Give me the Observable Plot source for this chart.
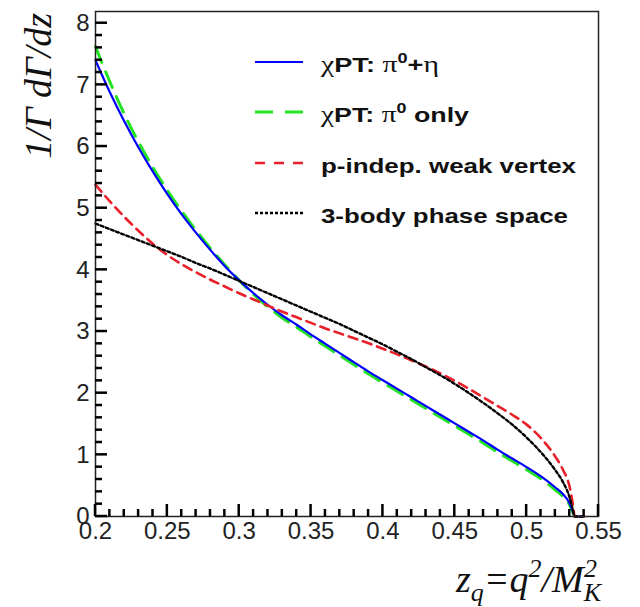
<!DOCTYPE html>
<html><head><meta charset="utf-8">
<script src="https://cdn.jsdelivr.net/npm/d3@7"></script>
<script src="https://cdn.jsdelivr.net/npm/@observablehq/plot@0.6"></script>
<style>body{margin:0;background:#fff} svg{display:block}</style>
</head><body><div id="chart"></div>
<script>
// ---- data ----
const z = [0.20,0.21,0.22,0.23,0.24,0.25,0.26,0.27,0.28,0.29,0.30,0.31,0.32,0.33,0.34,0.35,0.36,0.37,0.38,0.39,0.40,0.41,0.42,0.43,0.44,0.45,0.46,0.47,0.48,0.49,0.50,0.51,0.52,0.525,0.53,0.532,0.5335,0.54];
const chptPiEta  = [7.40,6.88,6.41,5.98,5.59,5.23,4.90,4.60,4.32,4.06,3.83,3.62,3.43,3.26,3.11,2.95,2.80,2.65,2.50,2.35,2.21,2.07,1.93,1.79,1.65,1.51,1.37,1.23,1.08,0.94,0.80,0.65,0.47,0.37,0.21,0.09,0,0];
const chptPiOnly = [7.62,7.05,6.53,6.07,5.66,5.29,4.95,4.64,4.35,4.08,3.83,3.60,3.40,3.22,3.07,2.91,2.76,2.61,2.46,2.31,2.17,2.03,1.89,1.75,1.61,1.47,1.33,1.19,1.04,0.90,0.76,0.61,0.43,0.33,0.18,0.07,0,0];
const weakVertex = [5.38,5.11,4.86,4.63,4.42,4.24,4.09,3.96,3.84,3.73,3.62,3.52,3.42,3.32,3.23,3.14,3.05,2.97,2.89,2.81,2.72,2.63,2.53,2.43,2.32,2.20,2.07,1.93,1.79,1.65,1.49,1.27,0.97,0.77,0.47,0.22,0,0];
const phaseSpace = [4.75,4.66,4.57,4.48,4.39,4.30,4.21,4.11,4.02,3.92,3.82,3.72,3.62,3.52,3.42,3.32,3.22,3.12,3.01,2.90,2.79,2.67,2.55,2.42,2.29,2.15,2.00,1.84,1.67,1.49,1.28,1.04,0.75,0.57,0.30,0.12,0,0];
const seriesNames = ["χPT: π0+η","χPT: π0 only","p-indep. weak vertex","3-body phase space"];
const xMajor = [0.2,0.25,0.3,0.35,0.4,0.45,0.5,0.55];
const xMajorLabels = ["0.2","0.25","0.3","0.35","0.4","0.45","0.5","0.55"];
const xMinor = d3.range(20,56).map(i => i/100);
const yMajor = [0,1,2,3,4,5,6,7,8];
const yMinor = d3.range(0,41).map(i => i/5);

// ---- layout ----
const W = 640, H = 607, mL = 95, mR = 42, mT = 11, mB = 91;
const toRows = vals => z.map((x, i) => ({z: x, v: vals[i]}));
const isXMajor = v => xMajor.some(m => Math.abs(m - v) < 1e-9);
const isYMajor = v => Math.abs(v - Math.round(v)) < 1e-9;

const styles = [
  {stroke: "#0000ff", strokeWidth: 2.2},
  {stroke: "#22e322", strokeWidth: 3, strokeDasharray: "17,10"},
  {stroke: "#e8202a", strokeWidth: 2.6, strokeDasharray: "9,6"},
  {stroke: "#000000", strokeWidth: 2.4, strokeDasharray: "3,2.5"}
];

const chart = Plot.plot({
  width: W, height: H,
  marginLeft: mL, marginRight: mR, marginTop: mT, marginBottom: mB,
  style: {fontFamily: "Liberation Sans, Arial, sans-serif", background: "#fff"},
  x: {domain: [0.2, 0.55]},
  y: {domain: [0, 8.19]},
  marks: [
    Plot.axisX(xMajor, {tickSize: 0, tickPadding: 5, fontSize: 24, fill: "#222", tickFormat: (d, i) => xMajorLabels[i], label: null}),
    Plot.axisY(yMajor, {tickSize: 0, tickPadding: 6, fontSize: 24, fill: "#222", tickFormat: d => String(d), label: null}),
    Plot.line(toRows(chptPiOnly), {x: "z", y: "v", curve: "monotone-x", ...styles[1]}),
    Plot.line(toRows(chptPiEta), {x: "z", y: "v", curve: "monotone-x", ...styles[0]}),
    Plot.line(toRows(weakVertex), {x: "z", y: "v", curve: "monotone-x", ...styles[2]}),
    Plot.line(toRows(phaseSpace), {x: "z", y: "v", curve: "monotone-x", ...styles[3]}),
    Plot.frame({stroke: "#222", strokeWidth: 1.5})
  ]
});
document.getElementById("chart").appendChild(chart);

const svg = d3.select(chart);
const xs = chart.scale("x"), ys = chart.scale("y");
const sx = d3.scaleLinear().domain(xs.domain).range(xs.range);
const sy = d3.scaleLinear().domain(ys.domain).range(ys.range);
const x0 = sx(0.2), y0 = sy(0);

// inward ROOT-style ticks, positioned through the chart's own scales
const tg = svg.append("g");
xMinor.forEach(v => {
  tg.append("path").attr("d", `M${sx(v)},${y0}V${y0 - (isXMajor(v) ? 12 : 7)}`)
    .attr("stroke", "black").attr("stroke-width", 2.5);
});
yMinor.forEach(v => {
  tg.append("path").attr("d", `M${x0},${sy(v)}H${x0 + (isYMajor(v) ? 12 : 7)}`)
    .attr("stroke", "black").attr("stroke-width", 2.5);
});

// y-axis title
svg.append("text")
  .attr("transform", "translate(51,13) rotate(-90)")
  .attr("text-anchor", "end")
  .attr("font-family", "Liberation Serif, Times New Roman, serif")
  .attr("font-style", "italic")
  .attr("font-size", 38)
  .attr("fill", "#111")
  .text("1/Γ dΓ/dz");

// x-axis title
const xt = svg.append("text")
  .attr("x", 456).attr("y", 592)
  .attr("text-anchor", "start")
  .attr("font-family", "Liberation Serif, Times New Roman, serif")
  .attr("font-style", "italic")
  .attr("font-size", 38)
  .attr("fill", "#111");
xt.append("tspan").text("z");
xt.append("tspan").attr("dy", 9).attr("font-size", 26).text("q");
xt.append("tspan").attr("dy", -9).text("=q");
xt.append("tspan").attr("dy", -15).attr("font-size", 26).text("2");
xt.append("tspan").attr("dy", 15).text("/M");
xt.append("tspan").attr("dy", 9).attr("font-size", 26).text("K");
xt.append("tspan").attr("dx", -17).attr("dy", -24).attr("font-size", 26).text("2");

// legend
const legY = [62, 112, 163, 213];
const legWidths = [118, 148, 255, 247];
const legDash = [null, "18,12", "10,9", "3,2"];
const lg = svg.append("g");
legY.forEach((y, i) => {
  const s = styles[i];
  lg.append("line").attr("x1", 255).attr("x2", 303).attr("y1", y).attr("y2", y)
    .attr("stroke", s.stroke).attr("stroke-width", s.strokeWidth)
    .attr("stroke-dasharray", legDash[i]);
  const t = lg.append("text").attr("x", 321).attr("y", y + 10)
    .attr("text-anchor", "start")
    .attr("font-family", "Liberation Sans, Arial, sans-serif")
    .attr("font-weight", "bold").attr("font-size", 21).attr("fill", "#111")
    .attr("textLength", legWidths[i]).attr("lengthAdjust", "spacingAndGlyphs");
  const greek = txt => t.append("tspan").attr("font-family", "Liberation Serif, Times New Roman, serif").attr("font-weight", "normal").attr("font-size", 23).text(txt);
  if (i < 2) {
    greek("χ");
    t.append("tspan").text("PT: ");
    greek("π");
    t.append("tspan").attr("dy", -9).attr("font-size", 14).text("0");
    if (i === 0) {
      t.append("tspan").attr("dy", 9).text("+");
      greek("η");
    } else {
      t.append("tspan").attr("dy", 9).text(" only");
    }
  } else {
    t.text(seriesNames[i]);
  }
});
</script>
</body></html>
